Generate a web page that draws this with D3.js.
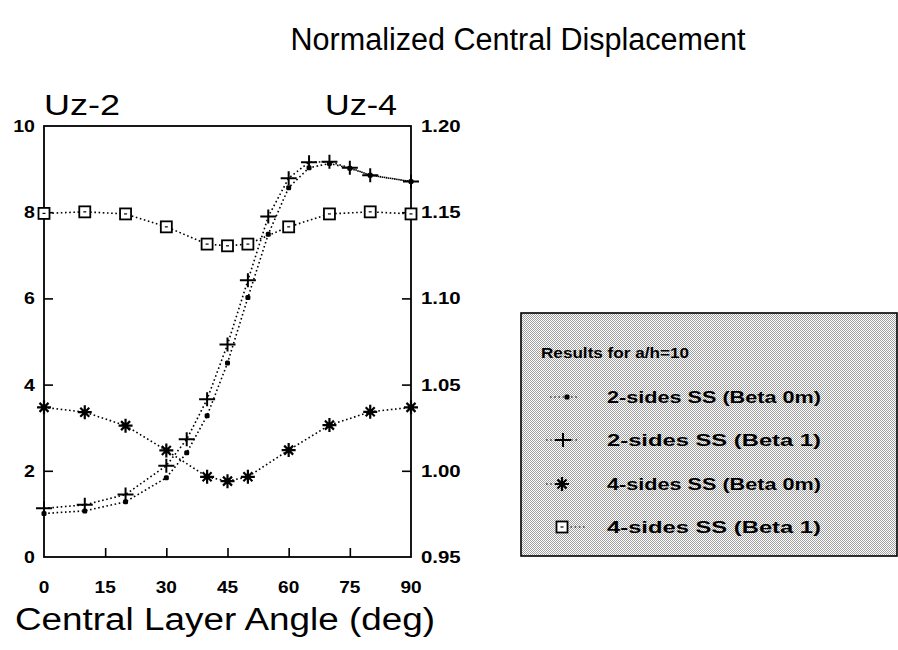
<!DOCTYPE html>
<html>
<head>
<meta charset="utf-8">
<script src="https://cdn.jsdelivr.net/npm/d3@7/dist/d3.min.js"></script>
<style>
  html, body { margin: 0; padding: 0; background: #fff; }
  svg { display: block; }
  text { font-family: "Liberation Sans", Arial, Helvetica, sans-serif; fill: #000; }
</style>
</head>
<body>
<svg id="chart" width="898" height="650"></svg>
<script>
// ---------- data ----------
const title = "Normalized Central Displacement";
const xLabel = "Central Layer Angle (deg)";
const leftAxisLabel = "Uz-2";
const rightAxisLabel = "Uz-4";
const legendTitle = "Results for a/h=10";

const xTicks = [0, 15, 30, 45, 60, 75, 90];
const leftTicks = [0, 2, 4, 6, 8, 10];
const rightTicks = [0.95, 1.00, 1.05, 1.10, 1.15, 1.20];

// 2-sides SS, read on left axis (Uz-2)
const angles2 = [0, 10, 20, 30, 35, 40, 45, 50, 55, 60, 65, 70, 75, 80, 90];
const twoSidesBeta0m = [1.01, 1.07, 1.28, 1.84, 2.42, 3.28, 4.50, 6.02, 7.49, 8.57, 9.03, 9.13, 9.02, 8.86, 8.71];
const twoSidesBeta1  = [1.13, 1.21, 1.45, 2.12, 2.73, 3.66, 4.93, 6.42, 7.90, 8.79, 9.16, 9.17, 9.03, 8.86, 8.71];

// 4-sides SS, read on right axis (Uz-4)
const angles4 = [0, 10, 20, 30, 40, 45, 50, 60, 70, 80, 90];
const fourSidesBeta0m = [1.0368, 1.0340, 1.0262, 1.0118, 0.9965, 0.9940, 0.9965, 1.0120, 1.0265, 1.0342, 1.0368];
const fourSidesBeta1  = [1.1493, 1.1502, 1.1490, 1.1415, 1.1315, 1.1305, 1.1315, 1.1415, 1.1490, 1.1502, 1.1490];

const seriesNames = ["2-sides SS (Beta 0m)", "2-sides SS (Beta 1)", "4-sides SS (Beta 0m)", "4-sides SS (Beta 1)"];

// ---------- layout ----------
const svg = d3.select("#chart");
const plot = { left: 44, right: 411, top: 126, bottom: 557 };

const x = d3.scaleLinear().domain([0, 90]).range([plot.left, plot.right]);
const yL = d3.scaleLinear().domain([0, 10]).range([plot.bottom, plot.top]);
const yR = d3.scaleLinear().domain([0.95, 1.20]).range([plot.bottom, plot.top]);

// pattern for legend background
const defs = svg.append("defs");
const pat = defs.append("pattern").attr("id", "stipple")
  .attr("width", 2).attr("height", 2).attr("patternUnits", "userSpaceOnUse");
pat.append("rect").attr("width", 2).attr("height", 2).attr("fill", "#fff");
pat.append("rect").attr("x", 0).attr("y", 0).attr("width", 1).attr("height", 1).attr("fill", "#a0a0a0");
pat.append("rect").attr("x", 1).attr("y", 1).attr("width", 1).attr("height", 1).attr("fill", "#a0a0a0");

// title
svg.append("text").attr("x", 518).attr("y", 50).attr("text-anchor", "middle")
  .attr("font-size", 31).attr("textLength", 455).attr("lengthAdjust", "spacingAndGlyphs")
  .text(title);

// axis titles
svg.append("text").attr("x", 44).attr("y", 115).attr("font-size", 30)
  .attr("textLength", 76).attr("lengthAdjust", "spacingAndGlyphs").text(leftAxisLabel);
svg.append("text").attr("x", 397).attr("y", 115).attr("font-size", 30).attr("text-anchor", "end")
  .attr("textLength", 72).attr("lengthAdjust", "spacingAndGlyphs").text(rightAxisLabel);
svg.append("text").attr("x", 15).attr("y", 630).attr("font-size", 31)
  .attr("textLength", 420).attr("lengthAdjust", "spacingAndGlyphs").text(xLabel);

// axes with inward ticks
const tickLen = 9;
const bottomAxis = d3.axisTop(x).tickValues(xTicks.filter(d => d > 0 && d < 90)).tickSize(tickLen).tickFormat("");
const leftAxis = d3.axisRight(yL).tickValues(leftTicks.filter(d => d > 0 && d < 10)).tickSize(tickLen).tickFormat("");
const rightAxis = d3.axisLeft(yR).tickValues(rightTicks.filter(d => d > 0.951 && d < 1.199)).tickSize(tickLen).tickFormat("");

function styleAxis(g) {
  g.select(".domain").remove();
  g.selectAll(".tick line").attr("stroke", "#000").attr("stroke-width", 1.6);
}
svg.append("g").attr("transform", `translate(0,${plot.bottom})`).call(bottomAxis).call(styleAxis);
svg.append("g").attr("transform", `translate(${plot.left},0)`).call(leftAxis).call(styleAxis);
svg.append("g").attr("transform", `translate(${plot.right},0)`).call(rightAxis).call(styleAxis);

// frame
svg.append("rect").attr("x", plot.left).attr("y", plot.top)
  .attr("width", plot.right - plot.left).attr("height", plot.bottom - plot.top)
  .attr("fill", "none").attr("stroke", "#000").attr("stroke-width", 1.8);

// tick labels (wide bold face, stretched horizontally)
function stretch(sel, k) {
  sel.each(function () {
    const w = this.getComputedTextLength();
    d3.select(this).attr("textLength", w * k).attr("lengthAdjust", "spacingAndGlyphs");
  });
}
const tickSize = 17;
svg.append("g").selectAll("text").data(xTicks).join("text")
  .attr("x", d => x(d)).attr("y", 593).attr("text-anchor", "middle")
  .attr("font-size", tickSize).attr("font-weight", "bold")
  .text(d => d).call(stretch, 1.12);
svg.append("g").selectAll("text").data(leftTicks).join("text")
  .attr("x", 35).attr("y", d => yL(d) + 6).attr("text-anchor", "end")
  .attr("font-size", tickSize).attr("font-weight", "bold")
  .text(d => d).call(stretch, 1.15);
svg.append("g").selectAll("text").data(rightTicks).join("text")
  .attr("x", 421).attr("y", d => yR(d) + 6).attr("text-anchor", "start")
  .attr("font-size", tickSize).attr("font-weight", "bold")
  .text(d => d3.format(".2f")(d)).call(stretch, 1.2);

// ---------- markers ----------
function drawMarker(g, type, cx, cy) {
  if (type === "dot") {
    g.append("rect").attr("x", cx - 2.5).attr("y", cy - 2.5).attr("width", 5).attr("height", 5)
      .attr("rx", 1.5).attr("fill", "#000");
  } else if (type === "plus") {
    g.append("path").attr("d", `M${cx - 8},${cy}H${cx + 8}M${cx},${cy - 7}V${cy + 7}`)
      .attr("stroke", "#000").attr("stroke-width", 2).attr("fill", "none");
  } else if (type === "star") {
    const r = 7, rd = 6;
    g.append("path").attr("d",
      `M${cx - r},${cy}H${cx + r}M${cx},${cy - r}V${cy + r}` +
      `M${cx - rd * 0.75},${cy - rd * 0.75}L${cx + rd * 0.75},${cy + rd * 0.75}` +
      `M${cx - rd * 0.75},${cy + rd * 0.75}L${cx + rd * 0.75},${cy - rd * 0.75}`)
      .attr("stroke", "#000").attr("stroke-width", 2.2).attr("fill", "none");
  } else if (type === "square") {
    g.append("rect").attr("x", cx - 5.5).attr("y", cy - 5.5).attr("width", 11).attr("height", 11)
      .attr("fill", "#fff").attr("stroke", "#000").attr("stroke-width", 1.8);
    g.append("rect").attr("x", cx - 1.5).attr("y", cy - 0.6).attr("width", 3).attr("height", 1.2).attr("fill", "#000");
  }
}

const series = [
  { name: seriesNames[0], xs: angles2, ys: twoSidesBeta0m, scale: yL, marker: "dot" },
  { name: seriesNames[1], xs: angles2, ys: twoSidesBeta1, scale: yL, marker: "plus" },
  { name: seriesNames[2], xs: angles4, ys: fourSidesBeta0m, scale: yR, marker: "star" },
  { name: seriesNames[3], xs: angles4, ys: fourSidesBeta1, scale: yR, marker: "square" }
];

const dash = "1.6,2.6";
series.forEach(s => {
  const pts = s.xs.map((a, i) => [x(a), s.scale(s.ys[i])]);
  svg.append("path").attr("d", d3.line()(pts))
    .attr("fill", "none").attr("stroke", "#000").attr("stroke-width", 1.6)
    .attr("stroke-dasharray", dash);
});
series.forEach(s => {
  const g = svg.append("g");
  s.xs.forEach((a, i) => drawMarker(g, s.marker, x(a), s.scale(s.ys[i])));
});

// ---------- legend ----------
const lg = svg.append("g");
lg.append("rect").attr("x", 521).attr("y", 313).attr("width", 376).attr("height", 243)
  .attr("fill", "url(#stipple)").attr("stroke", "#000").attr("stroke-width", 1.6);
lg.append("text").attr("x", 541).attr("y", 358).attr("font-size", 15).attr("font-weight", "bold")
  .attr("textLength", 148).attr("lengthAdjust", "spacingAndGlyphs").text(legendTitle);
const rowY = [397, 440, 484, 527];
const legLines = [[550, 578], [546, 578], [546, 562], [562, 586]];
const legMark = [567, 563, 562, 562];
series.forEach((s, i) => {
  const cy = rowY[i];
  lg.append("path").attr("d", `M${legLines[i][0]},${cy}H${legLines[i][1]}`)
    .attr("stroke", "#000").attr("stroke-width", 1.2).attr("stroke-dasharray", dash);
  drawMarker(lg, s.marker, legMark[i], cy);
  lg.append("text").attr("x", 607).attr("y", cy + 6).attr("font-size", 17).attr("font-weight", "bold")
    .attr("textLength", 214).attr("lengthAdjust", "spacingAndGlyphs").text(s.name);
});
</script>
</body>
</html>
